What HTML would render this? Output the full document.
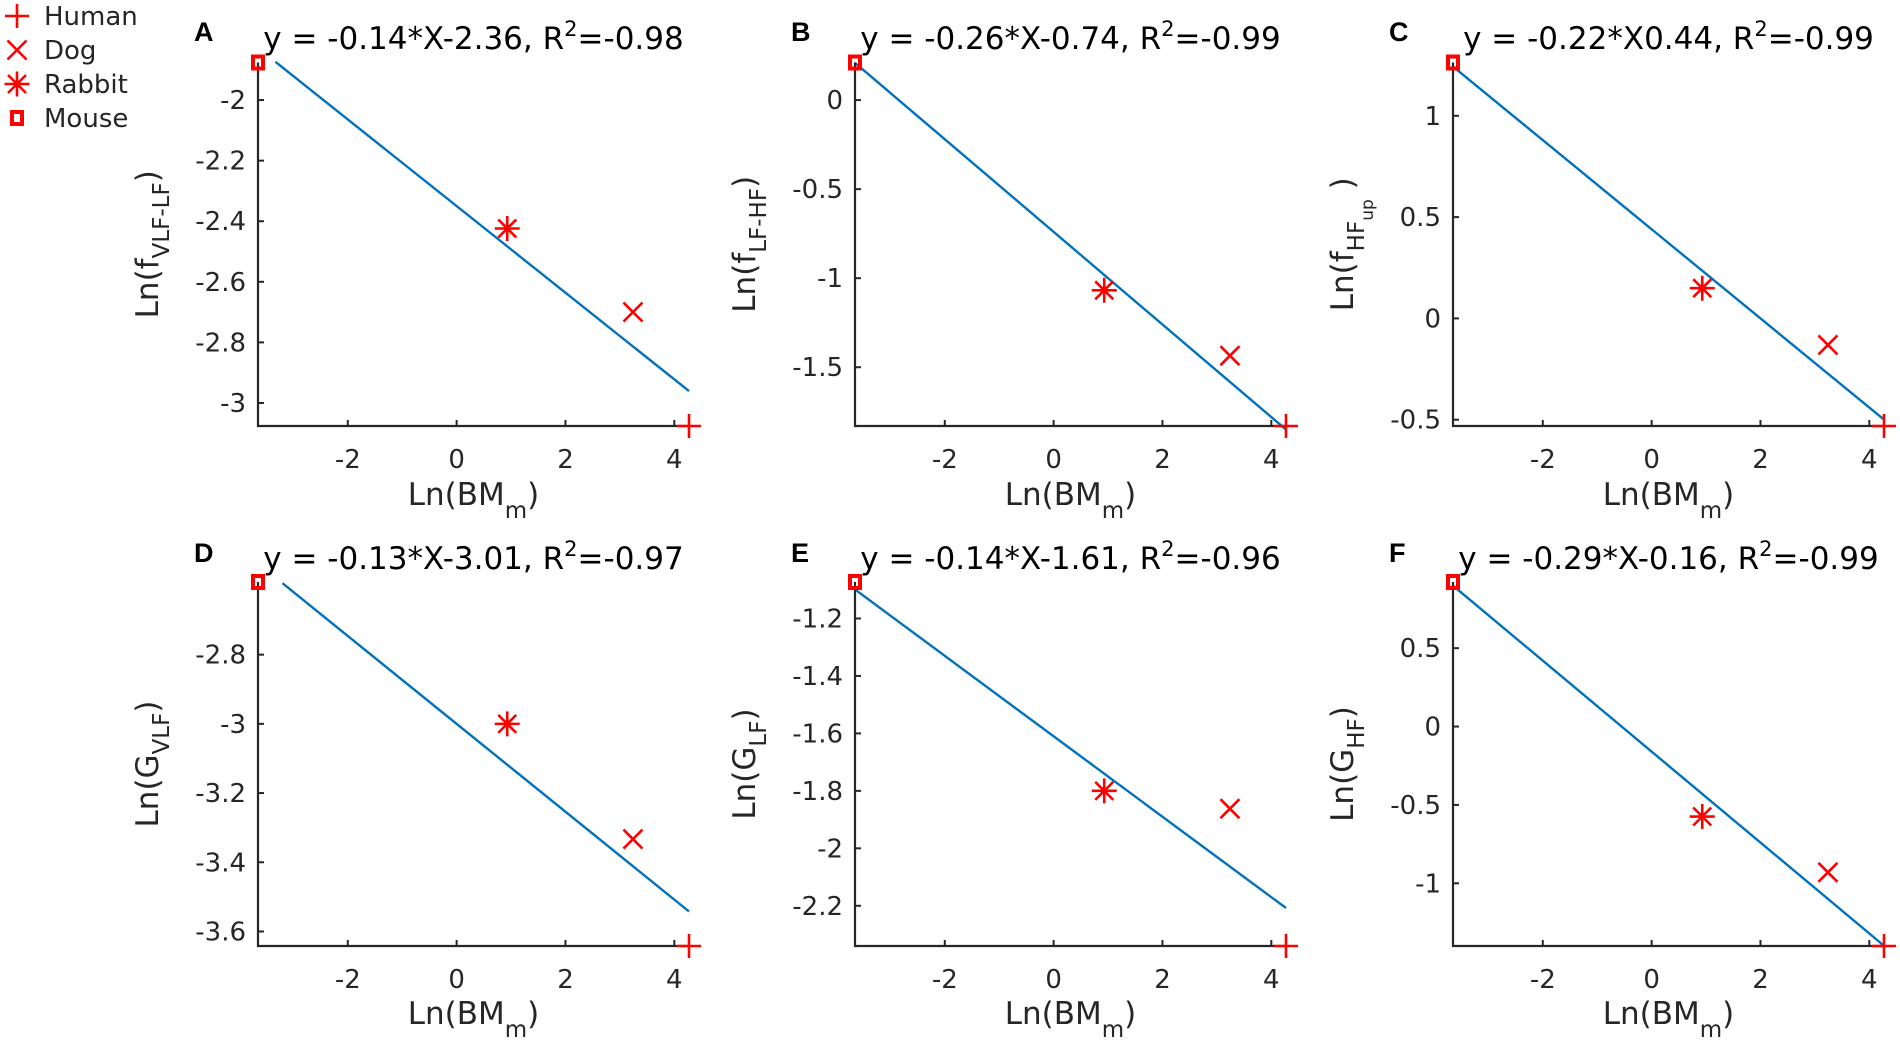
<!DOCTYPE html>
<html><head><meta charset="utf-8"><style>
html,body{margin:0;padding:0;background:#fff;}
svg{display:block;font-family:"DejaVu Sans","Liberation Sans",sans-serif;}
</style></head><body>
<svg id="fig" width="1900" height="1045" viewBox="0 0 1900 1045"></svg>
<script>
// species order: Human, Dog, Rabbit, Mouse
const speciesNames = ["Human","Dog","Rabbit","Mouse"];
const speciesX = [4.27, 3.24, 0.93, -3.65];
const panelLetters = ["A","B","C","D","E","F"];
const panelTitles = [
 "y = -0.14*X-2.36, R","y = -0.26*X-0.74, R","y = -0.22*X0.44, R",
 "y = -0.13*X-3.01, R","y = -0.14*X-1.61, R","y = -0.29*X-0.16, R"];
const panelR2 = ["=-0.98","=-0.99","=-0.99","=-0.97","=-0.96","=-0.99"];
const yA = [-3.076, -2.70, -2.424, -1.876];
const yB = [-1.83, -1.435, -1.068, 0.211];
const yC = [-0.531, -0.131, 0.149, 1.263];
const yD = [-3.642, -3.333, -3.0, -2.59];
const yE = [-2.34, -1.862, -1.80, -1.073];
const yF = [-1.40, -0.93, -0.574, 0.922];
const lineSlope = [-0.143, -0.26, -0.22, -0.127, -0.14, -0.29];
const lineIntercept = [-2.35, -0.74, 0.44, -3.0, -1.61, -0.16];
const lineStartX = [-3.33, -3.65, -3.65, -3.2, -3.65, -3.65];
const xTickValues = [-2, 0, 2, 4];
const yTicksA = [-2, -2.2, -2.4, -2.6, -2.8, -3];
const yTicksB = [0, -0.5, -1, -1.5];
const yTicksC = [1, 0.5, 0, -0.5];
const yTicksD = [-2.8, -3, -3.2, -3.4, -3.6];
const yTicksE = [-1.2, -1.4, -1.6, -1.8, -2, -2.2];
const yTicksF = [0.5, 0, -0.5, -1];

const NS = "http://www.w3.org/2000/svg";
const svg = document.getElementById("fig");
function mk(tag, attrs, parent){
  const e = document.createElementNS(NS, tag);
  for (const k in attrs) e.setAttribute(k, attrs[k]);
  (parent||svg).appendChild(e); return e;
}
const RED = "#ff0000", AX = "#262626";
function marker(g, kind, cx, cy){
  const s = 12;
  if (kind === 0){
    mk("path",{d:`M${cx-s} ${cy}H${cx+s}M${cx} ${cy-s}V${cy+s}`,stroke:RED,"stroke-width":2.6,fill:"none"},g);
  } else if (kind === 1){
    const t=9.5; mk("path",{d:`M${cx-t} ${cy-t}L${cx+t} ${cy+t}M${cx-t} ${cy+t}L${cx+t} ${cy-t}`,stroke:RED,"stroke-width":2.6,fill:"none"},g);
  } else if (kind === 2){
    const t=12.5, d=9;
    mk("path",{d:`M${cx-t} ${cy}H${cx+t}M${cx} ${cy-t}V${cy+t}M${cx-d} ${cy-d}L${cx+d} ${cy+d}M${cx-d} ${cy+d}L${cx+d} ${cy-d}`,stroke:RED,"stroke-width":2.6,fill:"none"},g);
  } else {
    mk("rect",{x:cx-5,y:cy-6,width:10,height:12,stroke:RED,"stroke-width":4,fill:"none"},g);
  }
}

const panelY = [yA,yB,yC,yD,yE,yF];
const panelYTicks = [yTicksA,yTicksB,yTicksC,yTicksD,yTicksE,yTicksF];
const yLabelSubs = [["f","VLF-LF",null],["f","LF-HF",null],["f","HF","up"],["G","VLF",null],["G","LF",null],["G","HF",null]];
const colLeft = [258, 855, 1453];
const rowTop = [62.5, 582], rowBot = [426, 946];
const plotW = 431;

for (let p=0; p<6; p++){
  const col = p%3, row = Math.floor(p/3);
  const L = colLeft[col], T = rowTop[row], B = rowBot[row], R = L+plotW;
  const ys = panelY[p];
  const xmin = Math.min(...speciesX), xmax = Math.max(...speciesX);
  const ymin = Math.min(...ys), ymax = Math.max(...ys);
  const sx = v => L + (v-xmin)/(xmax-xmin)*plotW;
  const sy = v => B - (v-ymin)/(ymax-ymin)*(B-T);
  const g = mk("g",{});
  
  

  const ln = mk("line",{x1:sx(lineStartX[p]),y1:sy(lineSlope[p]*lineStartX[p]+lineIntercept[p]),x2:sx(xmax),y2:sy(lineSlope[p]*xmax+lineIntercept[p]),stroke:"#0072bd","stroke-width":2.4},g);
  
  

  const ax = mk("path",{d:`M${L} ${T}V${B}H${R}`,stroke:AX,"stroke-width":2.2,fill:"none"},g);
  
  

  xTickValues.forEach(v=>{
    const x = sx(v);
    mk("line",{x1:x,y1:B,x2:x,y2:B-6,stroke:AX,"stroke-width":2},g);
    const t = mk("text",{x:x,y:B+42,"text-anchor":"middle","font-size":26,fill:AX},g);
    t.textContent = String(v);
    
    
  });
  panelYTicks[p].forEach(v=>{
    const y = sy(v);
    mk("line",{x1:L,y1:y,x2:L+6,y2:y,stroke:AX,"stroke-width":2},g);
    const t = mk("text",{x:L-12,y:y+9,"text-anchor":"end","font-size":26,fill:AX},g);
    t.textContent = String(v);
    
    
  });

  for (let i=0;i<4;i++){
    const mg = mk("g",{},g);
    
    
    marker(mg, i, sx(speciesX[i]), sy(ys[i]));
  }

  const tt = mk("text",{x:(L+R)/2,y:row?569:49,"text-anchor":"middle","font-size":31,fill:"#000"},g);
  
  
  mk("tspan",{},tt).textContent = panelTitles[p];
  mk("tspan",{dy:-13,"font-size":21},tt).textContent = "2";
  mk("tspan",{dy:13},tt).textContent = panelR2[p];

  const lt = mk("text",{x:L-64,y:row?562:41,"font-size":27,"font-weight":"bold",fill:"#000","font-family":"Liberation Sans, sans-serif"},g);
  lt.textContent = panelLetters[p];
  
  

  const xl = mk("text",{x:(L+R)/2,y:row?1024:505,"text-anchor":"middle","font-size":31,fill:AX},g);
  
  
  mk("tspan",{},xl).textContent = "Ln(BM";
  mk("tspan",{dy:13,"font-size":23},xl).textContent = "m";
  mk("tspan",{dy:-13},xl).textContent = ")";

  const cx = L-100, cy = (T+B)/2;
  const yl = mk("text",{x:cx,y:cy,"text-anchor":"middle","font-size":31,fill:AX,transform:`rotate(-90 ${cx} ${cy})`},g);
  
  
  const s = yLabelSubs[p];
  mk("tspan",{},yl).textContent = "Ln("+s[0];
  mk("tspan",{dy:11,"font-size":23},yl).textContent = s[1];
  if (s[2]){ mk("tspan",{dy:9,"font-size":17},yl).textContent = s[2]; mk("tspan",{dy:-20},yl).textContent = " )"; }
  else mk("tspan",{dy:-11},yl).textContent = ")";
}

const lg = mk("g",{});


const legY = [16, 50, 84, 118];
for (let i=0;i<4;i++){
  const eg = mk("g",{},lg);
  
  
  marker(eg, i, 17, legY[i]);
  const t = mk("text",{x:44,y:legY[i]+9,"font-size":26,fill:AX},eg);
  t.textContent = speciesNames[i];
}
</script>
</body></html>
